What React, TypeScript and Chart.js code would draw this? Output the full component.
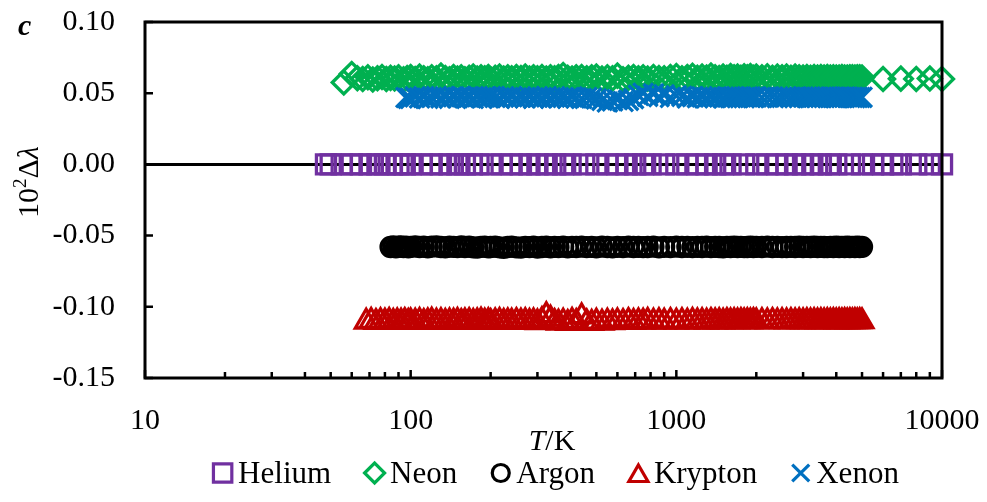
import React, { useEffect, useRef } from 'react';
import { Chart, registerables } from 'chart.js';

Chart.register(...registerables);

const FONT = '"Liberation Serif", "Times New Roman", Times, serif';

// ---------- data ----------
const seriesNames = ['Helium', 'Neon', 'Argon', 'Krypton', 'Xenon'];

const heliumT = [48, 50, 55, 60, 65, 70, 75, 80, 85, 90,
  95, 100, 110, 120, 130, 140, 150, 160, 170, 180,
  200, 220, 240, 260, 280, 300, 325, 350, 375, 400,
  450, 500, 550, 600, 650, 700, 750, 800, 900, 1000,
  1100, 1200, 1300, 1400, 1500, 1600, 1800, 2000, 2200, 2400,
  2600, 2800, 3000, 3250, 3500, 3750, 4000, 4500, 5000, 5500,
  6000, 6500, 7000, 8000, 9000, 10000];
const heliumY = [0, 0, 0, 0, 0, 0, 0, 0, 0, 0,
  0, 0, 0, 0, 0, 0, 0, 0, 0, 0,
  0, 0, 0, 0, 0, 0, 0, 0, 0, 0,
  0, 0, 0, 0, 0, 0, 0, 0, 0, 0,
  0, 0, 0, 0, 0, 0, 0, 0, 0, 0,
  0, 0, 0, 0, 0, 0, 0, 0, 0, 0,
  0, 0, 0, 0, 0, 0];

// shared temperature grid (100 K .. 5000 K) used by Ne, Ar, Kr, Xe
const commonT = [100, 104, 108, 112, 116, 120, 125, 130, 135, 140,
  145, 150, 155, 160, 166, 172, 178, 184, 190, 196,
  200, 208, 216, 224, 232, 240, 250, 260, 270, 280,
  290, 300, 312, 324, 336, 348, 360, 375, 390, 405,
  420, 440, 460, 480, 500, 525, 550, 575, 600, 630,
  660, 690, 720, 750, 780, 820, 860, 900, 950, 1000,
  1050, 1100, 1150, 1200, 1250, 1300, 1350, 1400, 1450, 1500,
  1550, 1600, 1650, 1700, 1750, 1800, 1850, 1900, 1950, 2000,
  2100, 2200, 2300, 2400, 2500, 2600, 2700, 2800, 2900, 3000,
  3100, 3200, 3300, 3400, 3500, 3600, 3700, 3800, 3900, 4000,
  4100, 4200, 4300, 4400, 4500, 4600, 4700, 4800, 4900, 5000];

const neonLowT = [56, 60, 63, 66, 69, 72, 75, 78, 81, 84, 87, 90, 94, 97];
const neonHighT = [6000, 7000, 8000, 9000, 10000];
const neonY = [0.0575, 0.0635, 0.0605, 0.0600, 0.0612, 0.0596, 0.0605, 0.0614, 0.0600, 0.0608, 0.0603, 0.0612, 0.0597, 0.0606,
  0.0614, 0.0600, 0.0617, 0.0605, 0.0598, 0.0612, 0.0604, 0.0624, 0.0606, 0.0598,
  0.0614, 0.0603, 0.0612, 0.0598, 0.0608, 0.0617, 0.0602, 0.0612, 0.0604, 0.0614,
  0.0598, 0.0608, 0.0617, 0.0602, 0.0612, 0.0604, 0.0614, 0.0606, 0.0617, 0.0602,
  0.0612, 0.0605, 0.0614, 0.0602, 0.0612, 0.0604, 0.0614, 0.0627, 0.0608, 0.0602,
  0.0612, 0.0614, 0.0605, 0.0612, 0.0617, 0.0602, 0.0612, 0.0604, 0.0624, 0.0598,
  0.0608, 0.0614, 0.0604, 0.0612, 0.0602, 0.0614, 0.0606, 0.0604, 0.0614, 0.0620,
  0.0604, 0.0614, 0.0622, 0.0608, 0.0617, 0.0610, 0.0624, 0.0612, 0.0606, 0.0617,
  0.0608, 0.0620, 0.0612, 0.0617, 0.0608, 0.0618, 0.0612, 0.0620, 0.0608, 0.0617,
  0.0612, 0.0618, 0.0608, 0.0616, 0.0612, 0.0617, 0.0608, 0.0616, 0.0612, 0.0609,
  0.0614, 0.0608, 0.0613, 0.0609, 0.0613, 0.0610, 0.0614, 0.0609, 0.0612, 0.0610,
  0.0609, 0.0613, 0.0610, 0.0609, 0.0612, 0.0611, 0.0609, 0.0612, 0.0611, 0.0610,
  0.0600, 0.0602, 0.0600, 0.0603, 0.0600];

const argonLowT = [84, 86, 88, 90, 92, 94, 96, 98];
const argonY = [-0.0580, -0.0575, -0.0582, -0.0578, -0.0576, -0.0581, -0.0577, -0.0583,
  -0.0579, -0.0576, -0.0580, -0.0577, -0.0582, -0.0578, -0.0575, -0.0580, -0.0583, -0.0577,
  -0.0579, -0.0581, -0.0576, -0.0580, -0.0578, -0.0583, -0.0585, -0.0579, -0.0577, -0.0582,
  -0.0580, -0.0578, -0.0583, -0.0586, -0.0580, -0.0577, -0.0582, -0.0585, -0.0579, -0.0581,
  -0.0578, -0.0584, -0.0580, -0.0578, -0.0583, -0.0579, -0.0581, -0.0577, -0.0582, -0.0579,
  -0.0580, -0.0578, -0.0581, -0.0579, -0.0583, -0.0578, -0.0580, -0.0582, -0.0579, -0.0581,
  -0.0578, -0.0580, -0.0579, -0.0581, -0.0580, -0.0578, -0.0582, -0.0579, -0.0581, -0.0578,
  -0.0580, -0.0579, -0.0581, -0.0579, -0.0580, -0.0578, -0.0581, -0.0579, -0.0580, -0.0582,
  -0.0579, -0.0580, -0.0578, -0.0580, -0.0579, -0.0581, -0.0580, -0.0578, -0.0580, -0.0579,
  -0.0580, -0.0578, -0.0580, -0.0579, -0.0581, -0.0580, -0.0579, -0.0580, -0.0578, -0.0580,
  -0.0579, -0.0580, -0.0578, -0.0580, -0.0579, -0.0580, -0.0581, -0.0579, -0.0580, -0.0578,
  -0.0580, -0.0579, -0.0580, -0.0578, -0.0580, -0.0579, -0.0580, -0.0578, -0.0580, -0.0579];

const kryptonLowT = [68, 71, 74, 77, 80, 83, 86, 89, 92, 95, 98];
const kryptonY = [-0.1105, -0.1100, -0.1108, -0.1102, -0.1106, -0.1100, -0.1107, -0.1103, -0.1106, -0.1101, -0.1107,
  -0.1103, -0.1106, -0.1100, -0.1108, -0.1104, -0.1099, -0.1106, -0.1102, -0.1107, -0.1103,
  -0.1106, -0.1100, -0.1108, -0.1104, -0.1101, -0.1107, -0.1103, -0.1099, -0.1106, -0.1102,
  -0.1108, -0.1104, -0.1100, -0.1107, -0.1103, -0.1106, -0.1101, -0.1105, -0.1102, -0.1107,
  -0.1104, -0.1110, -0.1095, -0.1060, -0.1085, -0.1108, -0.1112, -0.1105, -0.1115, -0.1100,
  -0.1108, -0.1068, -0.1110, -0.1114, -0.1106, -0.1112, -0.1105, -0.1110, -0.1103, -0.1108,
  -0.1101, -0.1107, -0.1103, -0.1106, -0.1100, -0.1105, -0.1102, -0.1106, -0.1101, -0.1105,
  -0.1102, -0.1106, -0.1100, -0.1104, -0.1102, -0.1105, -0.1101, -0.1104, -0.1102, -0.1105,
  -0.1101, -0.1103, -0.1102, -0.1104, -0.1101, -0.1103, -0.1102, -0.1104, -0.1101, -0.1103,
  -0.1102, -0.1104, -0.1101, -0.1103, -0.1102, -0.1104, -0.1102, -0.1103, -0.1102, -0.1104,
  -0.1102, -0.1103, -0.1102, -0.1104, -0.1102, -0.1103, -0.1102, -0.1103, -0.1102, -0.1104,
  -0.1102, -0.1103, -0.1102, -0.1104, -0.1102, -0.1103, -0.1102, -0.1103, -0.1102, -0.1103];

const xenonLowT = [96, 98];
const xenonY = [0.0470, 0.0464,
  0.0463, 0.0474, 0.0467, 0.0476, 0.0464, 0.0470, 0.0477, 0.0467, 0.0474, 0.0464,
  0.0475, 0.0468, 0.0477, 0.0466, 0.0472, 0.0463, 0.0476, 0.0468, 0.0474, 0.0466,
  0.0476, 0.0470, 0.0464, 0.0475, 0.0468, 0.0477, 0.0466, 0.0472, 0.0467, 0.0475,
  0.0464, 0.0472, 0.0468, 0.0476, 0.0466, 0.0474, 0.0467, 0.0470, 0.0464, 0.0474,
  0.0467, 0.0463, 0.0470, 0.0466, 0.0460, 0.0450, 0.0438, 0.0445, 0.0455, 0.0442,
  0.0450, 0.0462, 0.0485, 0.0500, 0.0478, 0.0495, 0.0475, 0.0488, 0.0470, 0.0482,
  0.0478, 0.0467, 0.0476, 0.0469, 0.0474, 0.0467, 0.0473, 0.0469, 0.0475, 0.0468,
  0.0473, 0.0469, 0.0474, 0.0469, 0.0473, 0.0468, 0.0474, 0.0471, 0.0469, 0.0473,
  0.0470, 0.0472, 0.0473, 0.0469, 0.0471, 0.0473, 0.0469, 0.0472, 0.0470, 0.0473,
  0.0471, 0.0469, 0.0472, 0.0471, 0.0470, 0.0472, 0.0473, 0.0470, 0.0471, 0.0469,
  0.0471, 0.0470, 0.0472, 0.0473, 0.0470, 0.0471, 0.0469, 0.0471, 0.0470, 0.0471];

const xTickValues = [10, 100, 1000, 10000];
const xMinorTickValues = [20, 30, 40, 50, 60, 70, 80, 90,
  200, 300, 400, 500, 600, 700, 800, 900,
  2000, 3000, 4000, 5000, 6000, 7000, 8000, 9000];
const yTickValues = [-0.15, -0.10, -0.05, 0, 0.05, 0.10];

// ---------- styles ----------
const seriesColors = ['#7030A0', '#00B050', '#000000', '#C00000', '#0070C0'];
const seriesStyles = ['rect', 'rectRot', 'circle', 'triangle', 'crossRot'];
const seriesRadii = [13.5, 11.5, 9.5, 12.5, 14];
const legendRadii = [13, 10, 8.5, 11, 12];
const seriesOrder = [4, 3, 2, 1, 0];

function drawMarker(ctx: CanvasRenderingContext2D, style: string, x: number, y: number, r: number) {
  ctx.beginPath();
  if (style === 'rect') {
    const h = r * Math.SQRT1_2;
    ctx.rect(x - h, y - h, 2 * h, 2 * h);
  } else if (style === 'rectRot') {
    ctx.moveTo(x - r, y);
    ctx.lineTo(x, y - r);
    ctx.lineTo(x + r, y);
    ctx.lineTo(x, y + r);
    ctx.closePath();
  } else if (style === 'circle') {
    ctx.arc(x, y, r, 0, Math.PI * 2);
  } else if (style === 'triangle') {
    for (let k = 0; k < 3; k++) {
      const a = -Math.PI / 2 + k * (2 * Math.PI / 3);
      const px = x + Math.cos(a) * r;
      const py = y + Math.sin(a) * r;
      if (k === 0) ctx.moveTo(px, py); else ctx.lineTo(px, py);
    }
    ctx.closePath();
  } else if (style === 'crossRot') {
    const h = r * Math.SQRT1_2;
    ctx.moveTo(x - h, y - h);
    ctx.lineTo(x + h, y + h);
    ctx.moveTo(x + h, y - h);
    ctx.lineTo(x - h, y + h);
  }
  ctx.stroke();
}

const decorPlugin = {
  id: 'decor',
  beforeDatasetsDraw(chart: any) {
    const { ctx, chartArea: a, scales } = chart;
    const y0 = scales.y.getPixelForValue(0);
    ctx.save();
    ctx.strokeStyle = '#000';
    ctx.lineWidth = 3;
    ctx.beginPath();
    ctx.moveTo(a.left, y0);
    ctx.lineTo(a.right, y0);
    ctx.stroke();
    ctx.restore();
  },
  afterDatasetsDraw(chart: any) {
    const { ctx, chartArea: a, scales } = chart;
    ctx.save();
    ctx.strokeStyle = '#000';
    ctx.lineWidth = 3;
    ctx.lineJoin = 'miter';
    ctx.strokeRect(a.left, a.top, a.right - a.left, a.bottom - a.top);
    ctx.lineWidth = 2.5;
    ctx.beginPath();
    for (const v of yTickValues) {
      const py = scales.y.getPixelForValue(v);
      ctx.moveTo(a.left, py);
      ctx.lineTo(a.left + 8, py);
    }
    for (const v of xMinorTickValues) {
      const px = scales.x.getPixelForValue(v);
      ctx.moveTo(px, a.bottom);
      ctx.lineTo(px, a.bottom - 6);
    }
    for (const v of xTickValues) {
      const px = scales.x.getPixelForValue(v);
      ctx.moveTo(px, a.bottom);
      ctx.lineTo(px, a.bottom - 8);
    }
    ctx.stroke();
    ctx.restore();
  },
  afterDraw(chart: any) {
    const { ctx } = chart;
    ctx.save();
    ctx.fillStyle = '#000';
    ctx.textBaseline = 'alphabetic';
    ctx.textAlign = 'left';

    // panel letter
    ctx.font = `bold italic 30px ${FONT}`;
    ctx.fillText('c', 18, 35);

    // x title: T/K
    ctx.font = `italic 30px ${FONT}`;
    const wT = ctx.measureText('T').width;
    ctx.font = `30px ${FONT}`;
    const wK = ctx.measureText('/K').width;
    const sx = 552 - (wT + wK) / 2;
    ctx.font = `italic 30px ${FONT}`;
    ctx.fillText('T', sx, 450);
    ctx.font = `30px ${FONT}`;
    ctx.fillText('/K', sx + wT, 450);

    // y title: 10²Δλ (rotated)
    ctx.save();
    ctx.translate(38, 218);
    ctx.rotate(-Math.PI / 2);
    let cx = 0;
    ctx.font = `30px ${FONT}`;
    ctx.fillText('10', cx, 0);
    cx += ctx.measureText('10').width;
    ctx.font = `19px ${FONT}`;
    ctx.fillText('2', cx, -12);
    cx += ctx.measureText('2').width;
    ctx.font = `30px ${FONT}`;
    ctx.fillText('\u0394', cx, 0);
    cx += ctx.measureText('\u0394').width;
    ctx.font = `italic 30px ${FONT}`;
    ctx.fillText('\u03bb', cx, 0);
    ctx.restore();

    // legend
    ctx.font = `31px ${FONT}`;
    const markerW = 21;
    const gapMT = 5;
    const gapItems = 33;
    const widths = seriesNames.map((n) => ctx.measureText(n).width);
    const total = widths.reduce((s, w) => s + markerW + gapMT + w, 0) + gapItems * (seriesNames.length - 1);
    let lx = 555.5 - total / 2;
    ctx.lineWidth = 3.2;
    ctx.lineJoin = 'miter';
    seriesNames.forEach((name, i) => {
      ctx.strokeStyle = seriesColors[i];
      const my = seriesStyles[i] === 'triangle' ? 476 : 473;
      drawMarker(ctx, seriesStyles[i], lx + markerW / 2, my, legendRadii[i]);
      ctx.fillStyle = '#000';
      ctx.fillText(name, lx + markerW + gapMT, 483);
      lx += markerW + gapMT + widths[i] + gapItems;
    });
    ctx.restore();
  },
};

function toPoints(xs: number[], ys: number[]) {
  return xs.map((x, i) => ({ x, y: ys[i] }));
}

export default function App() {
  const canvasRef = useRef<HTMLCanvasElement | null>(null);

  useEffect(() => {
    const canvas = canvasRef.current;
    if (!canvas) return;
    const seriesT = [
      heliumT,
      [...neonLowT, ...commonT, ...neonHighT],
      [...argonLowT, ...commonT],
      [...kryptonLowT, ...commonT],
      [...xenonLowT, ...commonT],
    ];
    const seriesY = [heliumY, neonY, argonY, kryptonY, xenonY];

    const datasets = seriesNames.map((name, i) => ({
      label: name,
      data: toPoints(seriesT[i], seriesY[i]),
      showLine: false,
      pointStyle: seriesStyles[i],
      pointRadius: seriesRadii[i],
      pointHoverRadius: seriesRadii[i],
      pointBorderWidth: 3.3,
      pointHoverBorderWidth: 3.3,
      borderColor: seriesColors[i],
      pointBorderColor: seriesColors[i],
      backgroundColor: 'rgba(0,0,0,0)',
      pointBackgroundColor: 'rgba(0,0,0,0)',
      order: seriesOrder[i],
      clip: false,
    }));

    const zeroPad = (s: any) => {
      s.paddingTop = 0;
      s.paddingBottom = 0;
      s.paddingLeft = 0;
      s.paddingRight = 0;
    };

    const chart = new Chart(canvas, {
      type: 'scatter',
      data: { datasets },
      options: {
        animation: false,
        responsive: false,
        devicePixelRatio: 1,
        events: [],
        layout: { padding: { top: 22, right: 45, left: 0, bottom: 0 } },
        plugins: {
          legend: { display: false },
          tooltip: { enabled: false },
          title: { display: false },
        },
        scales: {
          x: {
            type: 'logarithmic',
            position: 'bottom',
            min: 10,
            max: 10000,
            grid: { display: false, drawTicks: false },
            border: { display: false },
            ticks: {
              autoSkip: false,
              maxRotation: 0,
              minRotation: 0,
              padding: 25,
              color: '#000',
              font: { family: FONT, size: 30 },
              callback: (v: any) => String(v),
            },
            afterBuildTicks: (s: any) => {
              s.ticks = xTickValues.map((v) => ({ value: v }));
            },
            afterFit: (s: any) => {
              s.height = 124;
              zeroPad(s);
            },
          },
          y: {
            type: 'linear',
            position: 'left',
            min: -0.15,
            max: 0.1,
            grid: { display: false, drawTicks: false },
            border: { display: false },
            ticks: {
              autoSkip: false,
              padding: 30,
              color: '#000',
              font: { family: FONT, size: 30 },
              callback: (v: any) => Number(v).toFixed(2),
            },
            afterBuildTicks: (s: any) => {
              s.ticks = yTickValues.map((v) => ({ value: v }));
            },
            afterFit: (s: any) => {
              s.width = 145;
              zeroPad(s);
            },
          },
        },
      },
      plugins: [decorPlugin],
    } as any);

    return () => {
      chart.destroy();
    };
  }, []);

  return (
    <div style={{ position: 'fixed', left: 0, top: 0, width: 987, height: 502, background: '#fff' }}>
      <canvas ref={canvasRef} width={987} height={502} style={{ display: 'block' }} />
    </div>
  );
}
